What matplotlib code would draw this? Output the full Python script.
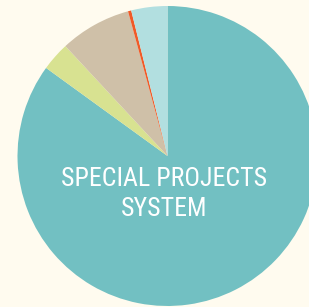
import matplotlib
matplotlib.use("Agg")
import matplotlib.pyplot as plt
from matplotlib import font_manager

categories = ["Special Projects System", "Category B", "Category C", "Category D", "Category E"]
values = [85.2, 3.1, 7.7, 0.35, 3.9]
colors = ["#72c0c2", "#d8e291", "#cfc0a8", "#f05a28", "#b2dfe0"]
title_text = "SPECIAL PROJECTS\nSYSTEM"

bg = "#fffbef"
fig = plt.figure(figsize=(3.09, 3.07), dpi=100, facecolor=bg)
ax = fig.add_axes([0, 0, 1, 1])
ax.set_facecolor(bg)
ax.pie(values, colors=colors, startangle=90, counterclock=False, radius=1.0,
       wedgeprops=dict(linewidth=0))
ax.set_xlim(-167.5 / 150, (309 - 167.5) / 150)
ax.set_ylim(-151 / 150, 156 / 150)
ax.set_aspect("auto")
ax.axis("off")

fonts = font_manager.fontManager.ttflist
names = {f.name for f in fonts}
fam, stretch, weight = "DejaVu Sans", "condensed", "normal"
for cand in ["Roboto Condensed", "Open Sans Condensed", "Liberation Sans Narrow"]:
    if cand in names:
        fam = cand
        stretch = "normal"
        break
ax.text(-0.025, -0.255, title_text, ha="center", va="center", color="white",
        fontsize=18.6, family=fam, fontstretch=stretch, fontweight=weight,
        linespacing=1.3)

fig.savefig("out.png", dpi=100, facecolor=bg)
